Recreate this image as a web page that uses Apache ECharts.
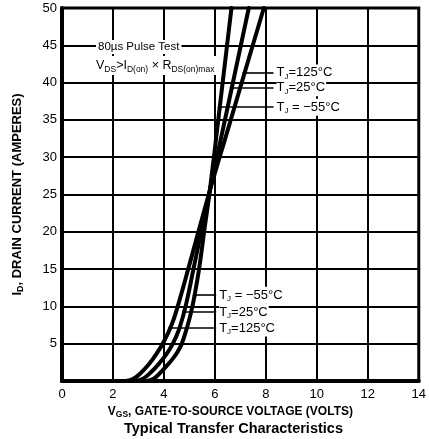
<!DOCTYPE html>
<html>
<head>
<meta charset="utf-8">
<script src="https://cdn.jsdelivr.net/npm/echarts@6/dist/echarts.min.js"></script>
<style>html,body{margin:0;padding:0;background:#fff}#c{width:429px;height:439px}</style>
</head>
<body>
<div id="c"></div>
<script>
// ---- data ----
const vgsM55 = [3.35, 3.6, 3.88, 4.1, 4.35, 4.55, 4.7, 4.9, 5.05, 5.2, 5.4, 5.6, 5.8, 6.2, 6.65];
const idM55  = [0, 0.3, 1.2, 2.0, 3.0, 4.0, 5.0, 7.1, 9.0, 11.4, 15.5, 20.6, 25.5, 37, 50];
const vgs25  = [2.9, 3.2, 3.5, 3.8, 4.1, 4.35, 4.6, 4.85, 5.2, 5.8, 6.5, 7.33];
const id25   = [0, 0.35, 1.2, 2.3, 3.6, 5.0, 7.0, 10, 15.7, 25.5, 36.7, 50];
const vgs125 = [2.5, 2.8, 3.1, 3.4, 3.7, 4.0, 4.3, 4.54, 5.0, 5.8, 6.5, 7.2, 7.92];
const id125  = [0, 0.3, 1.1, 2.2, 3.6, 5.3, 7.5, 10, 15.6, 25.5, 33.6, 41.7, 50];

const seriesNames = ['T_J = −55°C', 'T_J = 25°C', 'T_J = 125°C'];
const labelTemps = ['−55°C', '25°C', '125°C'];
// pointer annotations (data units): [I level, start V on curve, end V]
const topPointers = { '-55': [36.7, 6.19, 8.3], '25': [39.3, 6.66, 8.3], '125': [41.3, 7.16, 8.3] };
const botPointers = { '-55': [11.5, 5.21, 6.05], '25': [9.25, 4.79, 6.05], '125': [7.1, 4.25, 6.05] };

const xMin = 0, xMax = 14, xStep = 2;
const yMin = 0, yMax = 50, yStep = 5;

const FONT = '"Liberation Sans", Arial, Helvetica, sans-serif';

function zip(xs, ys) { return xs.map((x, i) => [x, ys[i]]); }

function pointerLines(key, tempText) {
  const lbl = {
    show: true, position: 'end', distance: 3,
    formatter: '{t|T}{s|J}{t|' + (key === '-55' ? ' = ' : '=') + tempText + '}',
    backgroundColor: '#fff', padding: [1, 1, 1, 0],
    rich: {
      t: { fontFamily: FONT, fontSize: 13, color: '#000', lineHeight: 15, verticalAlign: 'middle' },
      s: { fontFamily: FONT, fontSize: 8, color: '#000', lineHeight: 15, verticalAlign: 'bottom' }
    }
  };
  const a = topPointers[key], b = botPointers[key];
  return {
    silent: true,
    symbol: ['circle', 'none'], symbolSize: 4,
    lineStyle: { color: '#000', width: 1.6, type: 'solid' },
    label: lbl,
    emphasis: { disabled: true },
    data: [
      [{ coord: [a[1], a[0]] }, { coord: [a[2], a[0]] }],
      [{ coord: [b[1], b[0]] }, { coord: [b[2], b[0]] }]
    ]
  };
}

function curve(name, xs, ys, key, tempText) {
  return {
    type: 'line', name: name,
    data: zip(xs, ys),
    showSymbol: false, smooth: 0.4,
    lineStyle: { color: '#000', width: 4, cap: 'round', join: 'round' },
    itemStyle: { color: '#000' },
    emphasis: { disabled: true },
    z: 3,
    markLine: pointerLines(key, tempText)
  };
}

const chart = echarts.init(document.getElementById('c'), null, { renderer: 'canvas' });
chart.setOption({
  animation: false,
  backgroundColor: '#fff',
  grid: { left: 62, top: 8, right: 3, bottom: 58, show: true, borderColor: '#000', borderWidth: 3, backgroundColor: 'transparent' },
  xAxis: {
    type: 'value', min: xMin, max: xMax, interval: xStep,
    axisLine: { show: true, onZero: false, lineStyle: { color: '#000', width: 4 } },
    axisTick: { show: false },
    axisLabel: { color: '#000', fontFamily: FONT, fontSize: 13, margin: 7 },
    splitLine: { show: true, lineStyle: { color: '#000', width: 2 } },
    name: '{b|V}{s|GS}{b|, GATE-TO-SOURCE VOLTAGE (VOLTS)}',
    nameLocation: 'middle', nameGap: 23,
    nameTextStyle: {
      padding: [0, 20, 0, 0],
      rich: {
        b: { fontFamily: FONT, fontWeight: 'bold', fontSize: 12, color: '#000', lineHeight: 15, verticalAlign: 'middle' },
        s: { fontFamily: FONT, fontWeight: 'bold', fontSize: 8.5, color: '#000', lineHeight: 15, verticalAlign: 'bottom' }
      }
    }
  },
  yAxis: {
    type: 'value', min: yMin, max: yMax, interval: yStep,
    axisLine: { show: true, onZero: false, lineStyle: { color: '#000', width: 4 } },
    axisTick: { show: false },
    axisLabel: { color: '#000', fontFamily: FONT, fontSize: 13, margin: 5,
      formatter: v => (v === 0 ? '' : String(v)) },
    splitLine: { show: true, lineStyle: { color: '#000', width: 2 } },
    name: '{b|I}{s|D}{b|, DRAIN CURRENT (AMPERES)}',
    nameLocation: 'middle', nameGap: 37, nameRotate: 90,
    nameTextStyle: {
      padding: [0, 0, 0, 0],
      rich: {
        b: { fontFamily: FONT, fontWeight: 'bold', fontSize: 13, color: '#000', lineHeight: 16, verticalAlign: 'middle' },
        s: { fontFamily: FONT, fontWeight: 'bold', fontSize: 9, color: '#000', lineHeight: 16, verticalAlign: 'bottom' }
      }
    }
  },
  title: {
    text: 'Typical Transfer Characteristics',
    left: 124, top: 421, padding: 0,
    textStyle: { fontFamily: FONT, fontWeight: 'bold', fontSize: 14.5, color: '#000' }
  },
  graphic: [
    {
      type: 'text', left: 96, top: 40, z: 10,
      style: { text: '80µs Pulse Test', fontFamily: FONT, fontSize: 11.5, fill: '#000',
        backgroundColor: '#fff', padding: [1, 2, 1, 2] }
    },
    {
      type: 'text', left: 95, top: 56, z: 10,
      style: {
        text: '{t|V}{s|DS}{t|>I}{s|D(on)}{t| × R}{s|DS(on)max}',
        backgroundColor: '#fff', padding: [1, 2, 1, 1],
        rich: {
          t: { fontFamily: FONT, fontSize: 12.5, fill: '#000', lineHeight: 17, verticalAlign: 'middle' },
          s: { fontFamily: FONT, fontSize: 8.5, fill: '#000', lineHeight: 17, verticalAlign: 'bottom' }
        }
      }
    }
  ],
  series: [
    curve(seriesNames[0], vgsM55, idM55, '-55', labelTemps[0]),
    curve(seriesNames[1], vgs25, id25, '25', labelTemps[1]),
    curve(seriesNames[2], vgs125, id125, '125', labelTemps[2])
  ]
});
</script>
</body>
</html>
